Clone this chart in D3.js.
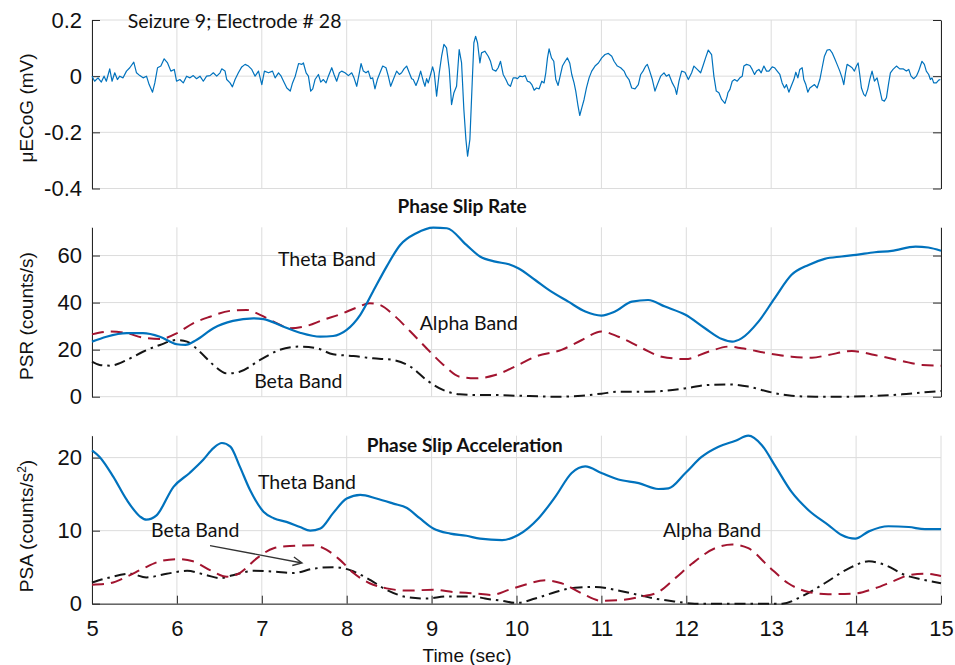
<!DOCTYPE html>
<html lang="en">
<head>
  <meta charset="UTF-8">
  <title>Phase Slip Rate / Acceleration</title>
  <script src="https://d3js.org/d3.v7.min.js"></script>
  <style>
    body { margin: 0; background: #fff; }
    svg text { font-family: "Liberation Sans", Arial, sans-serif; fill: #111; }
    .note { font-family: Lato, "Open Sans", sans-serif; font-size: 19.5px; }
    .title { font-family: Lato, "Open Sans", sans-serif; font-size: 19px; font-weight: bold; }
  </style>
</head>
<body>
<div id="chart"></div>
<script>
// ---- data (time in s) ----
const xTicks = [5, 6, 7, 8, 9, 10, 11, 12, 13, 14, 15];
const ecogTicks = [-0.4, -0.2, 0, 0.2];
const psrTicks = [0, 20, 40, 60];
const psaTicks = [0, 10, 20];

// raw µECoG trace, mV
const ecog = [
  [5.000,0.000],[5.031,-0.018],[5.071,-0.006],[5.110,-0.021],[5.142,0.000],[5.169,-0.018],[5.209,0.026],[5.236,-0.018],[5.268,0.012],[5.299,-0.012],
  [5.327,0.000],[5.366,-0.006],[5.406,0.018],[5.445,0.030],[5.492,0.050],[5.524,0.012],[5.563,0.002],[5.602,-0.006],[5.642,0.000],[5.673,-0.030],
  [5.713,-0.057],[5.740,-0.024],[5.772,0.030],[5.811,0.036],[5.850,0.062],[5.890,0.047],[5.929,0.018],[5.969,0.024],[5.996,-0.018],[6.035,-0.012],
  [6.075,-0.024],[6.114,0.000],[6.154,-0.006],[6.193,0.002],[6.232,-0.009],[6.272,0.000],[6.311,-0.018],[6.350,0.000],[6.390,0.002],[6.429,0.012],
  [6.469,0.000],[6.508,0.012],[6.528,0.026],[6.567,0.018],[6.587,-0.012],[6.626,-0.024],[6.654,-0.038],[6.685,-0.012],[6.724,0.012],[6.764,0.033],
  [6.803,0.042],[6.843,0.036],[6.882,0.024],[6.921,0.000],[6.961,0.018],[7.000,-0.030],[7.031,0.018],[7.079,0.012],[7.126,0.018],[7.157,-0.006],
  [7.197,0.012],[7.228,0.000],[7.256,-0.018],[7.295,-0.042],[7.335,-0.053],[7.362,-0.024],[7.394,0.000],[7.433,0.045],[7.472,0.042],
  [7.490,0.047],[7.522,0.012],[7.549,0.000],[7.576,-0.053],[7.600,-0.045],[7.627,-0.012],[7.667,0.006],[7.694,-0.021],[7.725,-0.012],[7.757,-0.024],
  [7.784,0.000],[7.824,0.030],[7.851,0.006],[7.882,-0.018],[7.914,0.012],[7.941,0.018],[7.980,0.012],[8.020,0.002],[8.059,0.012],[8.086,-0.006],
  [8.118,-0.036],[8.149,0.012],[8.169,0.045],[8.196,0.018],[8.227,0.012],[8.255,0.018],[8.282,-0.009],[8.306,-0.006],[8.333,-0.045],[8.361,-0.012],
  [8.392,0.012],[8.424,0.036],[8.463,0.030],[8.490,0.000],[8.518,-0.036],[8.549,-0.012],[8.588,0.018],[8.620,0.006],[8.647,0.012],[8.675,0.026],
  [8.706,0.036],[8.737,0.012],[8.765,-0.009],[8.784,-0.012],[8.816,-0.033],[8.843,-0.012],[8.871,0.018],[8.902,-0.018],[8.922,-0.036],[8.941,-0.009],
  [8.961,-0.024],[8.988,0.006],[9.012,0.033],[9.031,0.012],[9.059,-0.071],[9.090,0.012],[9.118,0.071],[9.145,0.113],[9.176,0.101],[9.208,0.024],
  [9.235,-0.101],[9.263,-0.059],[9.294,-0.036],[9.325,0.095],[9.353,0.047],[9.380,-0.119],[9.404,-0.225],[9.424,-0.285],[9.451,-0.225],[9.478,-0.024],
  [9.498,0.119],[9.518,0.142],[9.541,0.119],[9.569,0.047],[9.588,0.083],[9.627,0.089],[9.667,0.071],[9.694,0.053],[9.718,0.024],[9.757,0.018],
  [9.784,0.030],[9.812,0.053],[9.843,0.006],[9.875,-0.012],[9.902,-0.030],[9.929,-0.036],[9.961,-0.006],[9.992,-0.006],
  [10.012,-0.009],[10.039,0.000],[10.071,-0.002],[10.102,0.002],[10.129,-0.018],[10.157,-0.021],[10.180,-0.030],[10.208,-0.050],[10.235,-0.042],[10.267,-0.045],
  [10.298,-0.018],[10.325,-0.024],[10.345,0.012],[10.365,0.065],[10.384,0.097],[10.412,0.065],[10.439,0.053],[10.463,-0.012],[10.490,-0.033],[10.514,0.000],
  [10.541,0.036],[10.573,0.053],[10.600,0.065],[10.627,0.047],[10.651,0.006],[10.678,-0.024],[10.698,-0.053],[10.722,-0.101],[10.745,-0.140],[10.769,-0.113],
  [10.796,-0.083],[10.824,-0.042],[10.855,-0.006],[10.886,0.018],[10.925,0.036],[10.965,0.047],[11.004,0.065],[11.043,0.077],[11.082,0.081],[11.122,0.071],
  [11.149,0.053],[11.188,0.036],[11.227,0.030],[11.267,0.018],[11.294,0.000],[11.325,-0.012],[11.357,-0.042],[11.396,-0.045],[11.435,-0.030],[11.463,0.006],
  [11.490,0.018],[11.522,0.036],[11.541,0.042],[11.569,0.018],[11.600,-0.012],[11.631,-0.053],[11.659,-0.030],[11.698,0.000],[11.737,0.012],[11.765,0.000],
  [11.796,0.006],[11.835,-0.024],[11.867,-0.042],[11.886,-0.065],[11.914,-0.018],[11.945,0.018],[11.984,0.014],[12.024,-0.012],[12.063,0.012],[12.090,0.036],
  [12.129,0.024],[12.169,0.012],[12.196,0.036],[12.227,0.065],[12.259,0.093],[12.298,0.077],[12.325,0.000],[12.353,-0.053],[12.384,-0.059],[12.416,-0.083],
  [12.455,-0.097],[12.482,-0.071],
  [12.490,-0.059],[12.514,-0.047],[12.541,-0.018],[12.569,-0.012],[12.600,-0.018],[12.631,-0.006],[12.659,0.000],[12.678,0.036],[12.710,0.042],[12.749,0.038],
  [12.776,0.024],[12.804,0.006],[12.827,0.018],[12.855,0.024],[12.882,0.012],[12.914,0.036],[12.945,0.018],[12.973,0.018],[13.012,0.033],[13.039,0.030],
  [13.071,0.018],[13.102,0.006],[13.129,-0.024],[13.157,-0.042],[13.180,-0.030],[13.208,-0.057],[13.235,-0.036],[13.267,-0.012],[13.290,0.014],[13.314,-0.006],
  [13.337,0.024],[13.365,0.030],[13.384,-0.012],[13.408,-0.030],[13.431,-0.057],[13.455,-0.042],[13.482,-0.036],[13.510,-0.030],[13.541,-0.042],[13.573,-0.012],
  [13.600,0.030],[13.627,0.071],[13.659,0.093],[13.690,0.095],[13.718,0.083],[13.745,0.065],[13.776,0.042],[13.808,0.018],[13.835,-0.006],[13.855,-0.030],
  [13.875,0.012],[13.894,0.042],[13.925,0.036],[13.953,0.030],[13.980,0.018],[14.004,0.036],[14.024,0.047],[14.043,0.006],[14.063,-0.042],[14.090,-0.065],
  [14.110,-0.071],[14.137,-0.047],[14.161,-0.012],[14.188,0.018],[14.216,-0.018],[14.247,-0.006],[14.278,-0.047],[14.306,-0.085],[14.333,-0.089],[14.357,-0.077],
  [14.384,-0.024],[14.404,0.012],[14.435,0.024],[14.475,0.036],[14.514,0.026],[14.553,0.026],[14.592,0.018],[14.620,0.024],[14.647,0.000],[14.678,-0.009],
  [14.710,0.000],[14.737,0.018],[14.757,0.036],[14.776,0.053],[14.804,0.042],[14.827,0.018],[14.855,0.006],[14.875,-0.012],[14.894,-0.006],[14.914,-0.024],
  [14.945,-0.024],[14.973,-0.014],[14.992,-0.012]
];

// phase slip rate, counts/s
const psrTheta = [[5.00,23.4],[5.17,25.5],[5.41,27.0],[5.60,27.0],[5.80,25.5],[6.00,22.3],[6.10,22.0],[6.23,24.1],[6.43,29.1],[6.66,32.2],[6.90,33.3],[7.02,33.0],[7.25,29.8],[7.45,27.2],[7.69,25.5],[7.84,25.8],[8.00,28.4],[8.16,34.8],[8.31,44.7],[8.47,55.3],[8.63,64.5],[8.82,69.5],[9.02,71.9],[9.18,71.6],[9.41,64.5],[9.57,59.6],[9.75,57.4],[9.91,56.3],[10.02,54.6],[10.22,49.6],[10.38,45.4],[10.61,40.4],[10.81,36.2],[11.00,34.5],[11.16,36.2],[11.36,40.4],[11.55,41.1],[11.75,38.3],[11.99,34.8],[12.22,29.1],[12.42,24.5],[12.54,23.4],[12.65,24.8],[12.85,31.9],[13.04,41.8],[13.24,51.8],[13.44,56.0],[13.63,58.6],[13.83,59.6],[14.00,60.3],[14.22,61.4],[14.42,62.0],[14.70,63.8],[14.85,63.4],[15.00,62.0]];
const psrAlpha = [[5.00,26.5],[5.21,27.7],[5.41,27.0],[5.60,25.1],[5.80,24.5],[6.00,27.0],[6.19,31.2],[6.39,34.0],[6.63,36.5],[6.82,36.9],[6.98,34.8],[7.18,31.2],[7.33,29.1],[7.53,30.1],[7.72,32.6],[7.92,35.0],[8.12,37.9],[8.27,39.7],[8.39,39.0],[8.55,34.8],[8.75,27.7],[8.94,20.6],[9.14,13.5],[9.33,8.5],[9.51,7.8],[9.75,9.2],[10.02,13.5],[10.22,17.0],[10.53,19.9],[10.77,24.1],[11.00,27.7],[11.20,25.5],[11.48,20.6],[11.71,17.0],[11.99,16.0],[12.26,19.1],[12.50,21.3],[12.65,20.6],[12.97,18.4],[13.24,17.0],[13.48,16.6],[13.67,17.7],[13.95,19.4],[14.22,17.7],[14.54,15.2],[14.78,13.5],[15.00,13.2]];
const psrBeta = [[5.00,14.9],[5.09,13.5],[5.21,13.2],[5.41,15.6],[5.60,19.1],[5.80,22.0],[6.00,24.1],[6.12,23.4],[6.27,19.1],[6.43,13.5],[6.59,9.9],[6.74,10.6],[6.98,15.6],[7.21,19.9],[7.45,21.3],[7.65,20.6],[7.84,18.0],[8.08,17.3],[8.31,16.3],[8.55,15.6],[8.75,12.8],[8.94,7.1],[9.14,2.8],[9.33,1.0],[9.57,0.7],[9.75,0.7],[10.02,0.4],[10.49,0.0],[10.77,0.4],[11.00,1.3],[11.20,2.1],[11.48,2.1],[11.71,2.4],[12.03,3.8],[12.26,5.0],[12.50,5.2],[12.73,4.3],[12.97,2.1],[13.24,0.4],[13.52,0.0],[13.83,0.0],[14.22,0.3],[14.54,1.0],[14.78,1.8],[15.00,2.4]];

// phase slip acceleration, counts/s^2
const psaTheta = [[5.00,21.0],[5.09,20.1],[5.25,17.4],[5.41,14.2],[5.57,11.9],[5.64,11.5],[5.76,12.1],[5.96,16.0],[6.15,17.9],[6.31,19.7],[6.43,21.3],[6.53,22.0],[6.63,21.5],[6.74,18.8],[6.86,15.6],[7.02,12.6],[7.14,11.7],[7.29,11.2],[7.45,10.5],[7.57,10.0],[7.69,10.3],[7.84,12.4],[8.00,14.4],[8.16,14.9],[8.35,14.4],[8.55,13.7],[8.71,13.1],[8.86,11.7],[9.02,10.3],[9.22,9.6],[9.41,9.3],[9.57,8.9],[9.83,8.7],[10.02,9.4],[10.26,11.7],[10.46,14.7],[10.65,17.9],[10.81,18.8],[11.00,17.9],[11.20,17.0],[11.44,16.5],[11.67,15.7],[11.79,15.8],[11.99,17.9],[12.18,20.1],[12.38,21.5],[12.58,22.3],[12.73,23.0],[12.89,21.7],[13.05,18.8],[13.24,15.3],[13.44,12.8],[13.67,10.8],[13.83,9.4],[13.99,8.9],[14.15,9.9],[14.38,10.6],[14.62,10.5],[14.81,10.2],[15.00,10.2]];
const psaAlpha = [[5.00,2.6],[5.21,2.8],[5.41,3.7],[5.60,4.8],[5.80,5.8],[6.00,6.1],[6.19,5.8],[6.39,4.6],[6.59,3.7],[6.74,4.2],[6.94,6.2],[7.14,7.6],[7.33,7.9],[7.61,8.0],[7.76,7.4],[7.92,6.0],[8.08,4.2],[8.27,2.8],[8.47,2.1],[8.71,1.8],[9.02,1.9],[9.26,1.6],[9.51,1.4],[9.71,1.2],[9.91,1.9],[10.10,2.6],[10.34,3.2],[10.53,2.8],[10.77,1.4],[11.00,0.4],[11.24,0.5],[11.48,1.0],[11.67,1.6],[11.87,3.5],[12.07,5.5],[12.34,7.6],[12.54,8.1],[12.73,7.6],[12.97,5.1],[13.20,2.8],[13.44,1.6],[13.67,1.3],[13.99,1.4],[14.22,2.1],[14.42,3.0],[14.62,3.9],[14.81,4.1],[15.00,3.8]];
const psaBeta = [[5.00,2.9],[5.21,3.6],[5.45,4.1],[5.64,3.6],[5.88,4.1],[6.12,4.5],[6.35,3.9],[6.51,3.5],[6.66,3.9],[6.90,4.5],[7.14,4.4],[7.37,4.2],[7.61,4.8],[7.84,5.0],[8.04,4.6],[8.24,3.5],[8.47,1.9],[8.71,0.9],[8.94,0.7],[9.18,1.0],[9.49,1.0],[9.63,0.7],[9.83,0.4],[10.00,0.1],[10.22,0.7],[10.46,1.6],[10.69,2.2],[10.93,2.3],[11.16,1.9],[11.40,1.3],[11.63,0.7],[11.87,0.3],[12.10,0.0],[12.50,0.0],[12.89,0.0],[13.13,0.0],[13.36,1.0],[13.63,2.8],[13.91,4.8],[14.15,5.8],[14.34,5.3],[14.58,3.9],[14.78,3.3],[15.00,2.8]];

// ---- layout ----
const W = 955, H = 665;
const blue = "#0072BD", red = "#A2142F", black = "#151515";
const axisCol = "#262626", gridCol = "#dcdcdc";

const svg = d3.select("#chart").append("svg")
  .attr("width", W)
  .attr("height", H);

const x = d3.scaleLinear().domain([5, 15]).range([92, 941]);

const panels = [
  { name: "ecog", top: 20, bottom: 188.5, domain: [-0.4, 0.2], ticks: ecogTicks,
    fmt: d => d === 0 ? "0" : d.toFixed(1), right: true, xAxis: false },
  { name: "psr", top: 227.3, bottom: 396.7, domain: [0, 72], ticks: psrTicks,
    fmt: d => String(d), right: true, xAxis: false },
  { name: "psa", top: 435.7, bottom: 603.7, domain: [0, 23], ticks: psaTicks,
    fmt: d => String(d), right: false, xAxis: true }
];

panels.forEach(p => {
  p.y = d3.scaleLinear().domain(p.domain).range([p.bottom, p.top]);
  const g = svg.append("g").attr("class", p.name);
  p.g = g;

  // grid
  g.selectAll(".vgrid").data(xTicks).enter().append("line")
    .attr("x1", d => x(d)).attr("x2", d => x(d))
    .attr("y1", p.top).attr("y2", p.bottom)
    .attr("stroke", gridCol).attr("stroke-width", 1);
  g.selectAll(".hgrid").data(p.ticks).enter().append("line")
    .attr("x1", x(5)).attr("x2", x(15))
    .attr("y1", d => p.y(d)).attr("y2", d => p.y(d))
    .attr("stroke", gridCol).attr("stroke-width", 1);

  // left axis
  const ax = g.append("g")
    .attr("transform", `translate(${x(5)},0)`)
    .call(d3.axisLeft(p.y).tickValues(p.ticks).tickFormat(p.fmt)
      .tickSizeInner(-8).tickSizeOuter(0).tickPadding(10));
  ax.selectAll("text").style("font-size", "22px");

  if (p.right) {
    g.append("g")
      .attr("transform", `translate(${x(15)},0)`)
      .call(d3.axisRight(p.y).tickValues(p.ticks).tickFormat("")
        .tickSizeInner(-8).tickSizeOuter(0));
  }
  if (p.xAxis) {
    const bx = g.append("g")
      .attr("transform", `translate(0,${p.bottom})`)
      .call(d3.axisBottom(x).tickValues(xTicks).tickFormat(d3.format("d"))
        .tickSizeInner(-8).tickSizeOuter(0).tickPadding(17));
    bx.selectAll("text").style("font-size", "22px");
  }
});

svg.selectAll(".domain, .tick line").attr("stroke", axisCol).attr("stroke-width", 1);
svg.selectAll(".tick text").attr("fill", "#111");

function drawLine(p, data, color, width, dash, smooth) {
  const line = d3.line()
    .x(d => x(d[0]))
    .y(d => p.y(d[1]))
    .curve(smooth ? d3.curveMonotoneX : d3.curveLinear);
  p.g.append("path")
    .datum(data)
    .attr("d", line)
    .attr("fill", "none")
    .attr("stroke", color)
    .attr("stroke-width", width)
    .attr("stroke-linejoin", "round")
    .attr("stroke-dasharray", dash);
}

const [pE, pR, pA] = panels;
drawLine(pE, ecog, blue, 1.2, null, false);

drawLine(pR, psrBeta, black, 2, "11,5,2.5,5", true);
drawLine(pR, psrAlpha, red, 2, "12,7", true);
drawLine(pR, psrTheta, blue, 2.2, null, true);

drawLine(pA, psaBeta, black, 2, "11,5,2.5,5", true);
drawLine(pA, psaAlpha, red, 2, "12,7", true);
drawLine(pA, psaTheta, blue, 2.2, null, true);

// ---- annotations (data coordinates) ----
function note(p, t, v, txt, cls, anchor) {
  return p.g.append("text")
    .attr("class", cls || "note")
    .attr("x", x(t)).attr("y", p.y(v))
    .attr("text-anchor", anchor || "start")
    .text(txt);
}
note(pE, 5.42, 0.173, "Seizure 9; Electrode # 28");
note(pR, 9.36, 78.2, "Phase Slip Rate", "title", "middle");
note(pR, 7.19, 55.6, "Theta Band");
note(pR, 8.86, 28.4, "Alpha Band");
note(pR, 6.91, 3.7, "Beta Band");
note(pA, 9.39, 20.8, "Phase Slip Acceleration", "title", "middle");
note(pA, 6.955, 15.7, "Theta Band");
note(pA, 5.695, 9.18, "Beta Band");
note(pA, 11.725, 9.18, "Alpha Band");

// arrow from "Beta Band" label
const a0 = [x(6.39), pA.y(7.95)], a1 = [x(7.473), pA.y(5.58)];
const ang = Math.atan2(a1[1] - a0[1], a1[0] - a0[0]);
const hl = 10, hw = 0.45;
pA.g.append("path")
  .attr("d", `M${a0[0]},${a0[1]}L${a1[0]},${a1[1]}` +
    `M${a1[0] - hl * Math.cos(ang - hw)},${a1[1] - hl * Math.sin(ang - hw)}L${a1[0]},${a1[1]}` +
    `L${a1[0] - hl * Math.cos(ang + hw)},${a1[1] - hl * Math.sin(ang + hw)}`)
  .attr("fill", "none")
  .attr("stroke", "#333")
  .attr("stroke-width", 1.4);

// ---- axis titles ----
function yTitle(p, yc, parts) {
  const t = svg.append("text")
    .attr("transform", `translate(33,${yc}) rotate(-90)`)
    .attr("text-anchor", "middle")
    .style("font-size", "19px");
  parts.forEach(s => {
    const ts = t.append("tspan").text(s.text);
    if (s.sup) ts.attr("baseline-shift", "super").style("font-size", "12px");
  });
}
yTitle(pE, 108, [{ text: "\u03bcECoG (mV)" }]);
yTitle(pR, 316, [{ text: "PSR (counts/s)" }]);
yTitle(pA, 526, [{ text: "PSA (counts/s" }, { text: "2", sup: true }, { text: ")" }]);

svg.append("text")
  .attr("x", 467).attr("y", 662)
  .attr("text-anchor", "middle")
  .style("font-size", "19px")
  .text("Time (sec)");
</script>
</body>
</html>
